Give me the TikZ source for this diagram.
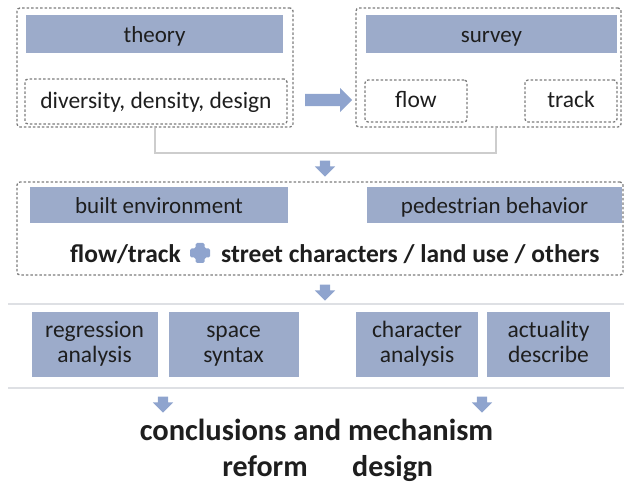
\documentclass[tikz,border=0pt]{standalone}
\usepackage{fontspec}
\setmainfont{Carlito}
\usetikzlibrary{shapes.arrows}
\definecolor{barfill}{RGB}{156,171,202}
\definecolor{arrowfill}{RGB}{143,164,206}
\definecolor{dashgrey}{RGB}{125,125,125}
\definecolor{lightline}{RGB}{205,205,205}
\definecolor{sepline}{RGB}{222,224,228}
\definecolor{txt}{RGB}{30,30,30}
\tikzset{
  dbox/.style={draw=dashgrey, line width=1.3pt, dash pattern=on 2.5pt off 2pt, rounded corners=3pt, inner sep=0pt},
  dtext/.style={dbox, text=txt, font=\fontsize{23.5}{25}\selectfont, text height=19pt, text depth=5pt},
  bar/.style={fill=barfill, draw=none, inner sep=0pt, text=txt, font=\fontsize{23}{25}\selectfont, text height=20pt, text depth=2pt},
  ana/.style={fill=barfill, draw=none, inner sep=0pt, text=txt, align=center, font=\fontsize{23.5}{25}\selectfont},
  btxt/.style={text=txt, inner sep=0pt},
  darrow/.style={single arrow, fill=arrowfill, draw=none, inner sep=5pt, single arrow head extend=5pt, minimum height=16pt, shape border rotate=270},
}
\begin{document}
\begin{tikzpicture}[x=1pt,y=-1pt]
\useasboundingbox (0,0) rectangle (626,486);
% top row
\node[dbox, minimum width=276pt, minimum height=119pt] (thbox) at (155,67.5) {};
\node[bar, minimum width=257pt, minimum height=38pt] (theory) at (154.5,34) {theory};
\node[dtext, minimum width=262pt, minimum height=45pt] (div) at (156,101.5) {diversity, density, design};
\node[dbox, minimum width=265pt, minimum height=119pt] (svbox) at (488.5,67.5) {};
\node[bar, minimum width=251pt, minimum height=38pt] (survey) at (491.5,34) {survey};
\node[dtext, minimum width=102pt, minimum height=42pt] (flow) at (416,101) {flow};
\node[dtext, minimum width=92pt, minimum height=42pt] (track) at (571,101) {track};
% arrow theory -> survey
\node[single arrow, fill=arrowfill, draw=none, inner sep=6pt, single arrow head extend=6pt, minimum height=47pt, anchor=west] (a1) at (305,100) {};
% bracket
\coordinate (bl) at (155,153);
\coordinate (br) at (496,153);
\draw[lightline, line width=1.5pt] (thbox.south) -- (bl) -- (br) -- (br |- svbox.south);
\node[darrow] (a2) at (325,166) {};
% middle
\node[dbox, minimum width=606pt, minimum height=93pt] (mid) at (320,228.5) {};
\node[bar, minimum width=258pt, minimum height=36pt] (built) at (159,205) {built environment};
\node[bar, minimum width=255pt, minimum height=36pt] (ped) at (494.5,205) {pedestrian behavior};
\node[btxt, font=\fontsize{25.5}{27}\selectfont\bfseries, anchor=base east] (ft) at (181,262) {flow/track};
\node[btxt, font=\fontsize{25.5}{27}\selectfont\bfseries, anchor=base west] (sc) at (221,262) {street characters / land use / others};
\fill[arrowfill, rounded corners=1.5pt] (195.5,243) -- (204.5,243) -- (204.5,248.5) -- (210,248.5) -- (210,257.5) -- (204.5,257.5) -- (204.5,263) -- (195.5,263) -- (195.5,257.5) -- (190,257.5) -- (190,248.5) -- (195.5,248.5) -- cycle;
\node[darrow] (a3) at (325,290) {};
% separators
\coordinate (s1l) at (8,304); \coordinate (s1r) at (624,304);
\coordinate (s2l) at (8,388); \coordinate (s2r) at (624,388);
\draw[sepline, line width=2.5pt] (s1l) -- (s1r);
\draw[sepline, line width=2.5pt] (s2l) -- (s2r);
% analysis
\node[ana, minimum width=126pt, minimum height=65pt] (reg) at (94.5,344.5) {\strut regression\\\strut analysis};
\node[ana, minimum width=130pt, minimum height=65pt] (spc) at (233.5,344.5) {\strut space\\\strut syntax};
\node[ana, minimum width=122pt, minimum height=65pt] (chr) at (417,344.5) {\strut character\\\strut analysis};
\node[ana, minimum width=123pt, minimum height=65pt] (act) at (548.5,344.5) {\strut actuality\\\strut describe};
\node[darrow] (a4) at (163,402) {};
\node[darrow] (a5) at (482,402) {};
% conclusions
\node[btxt, font=\fontsize{30.5}{32}\selectfont\bfseries, anchor=base] (conc) at (316.5,440) {conclusions and mechanism};
\node[btxt, font=\fontsize{30}{32}\selectfont\bfseries, anchor=base east] (ref) at (308,476) {reform};
\node[btxt, font=\fontsize{30}{32}\selectfont\bfseries, anchor=base west] (des) at (352,476) {design};
\end{tikzpicture}
\end{document}
